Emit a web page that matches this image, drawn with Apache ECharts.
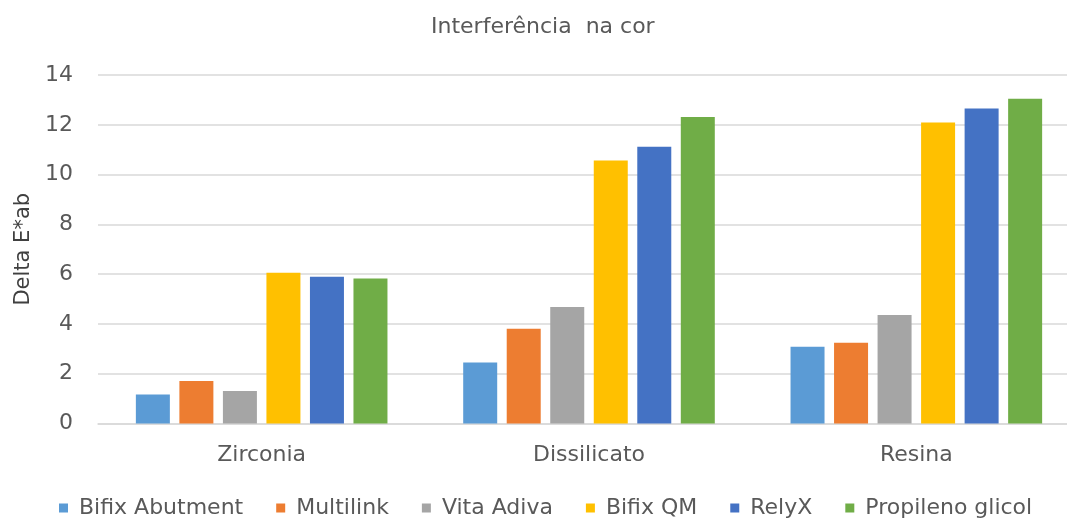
<!DOCTYPE html>
<html>
<head>
<meta charset="utf-8">
<script src="https://cdn.jsdelivr.net/npm/echarts@6/dist/echarts.min.js"></script>
<style>html,body{margin:0;padding:0;background:#fff}#c{width:1067px;height:524px}</style>
</head>
<body>
<div id="c"></div>
<script>
const categories = ["Zirconia", "Dissilicato", "Resina"];
const seriesNames = ["Bifix Abutment", "Multilink", "Vita Adiva", "Bifix QM", "RelyX", "Propileno glicol"];
const bifixAbutment = [1.16, 2.45, 3.08];
const multilink = [1.71, 3.81, 3.24];
const vitaAdiva = [1.31, 4.68, 4.36];
const bifixQM = [6.06, 10.57, 12.09];
const relyX = [5.90, 11.12, 12.65];
const propilenoGlicol = [5.82, 12.31, 13.05];
const colors = ["#5B9BD5", "#ED7D31", "#A5A5A5", "#FFC000", "#4472C4", "#70AD47"];
const yTicks = [0, 2, 4, 6, 8, 10, 12, 14];

const allValues = [bifixAbutment, multilink, vitaAdiva, bifixQM, relyX, propilenoGlicol];
const font = "'DejaVu Sans', sans-serif";
const chart = echarts.init(document.getElementById('c'), null, {renderer: 'canvas'});
chart.setOption({
  animation: false,
  backgroundColor: '#ffffff',
  title: {
    text: 'Interferência  na cor',
    left: 426,
    top: 11,
    textStyle: {fontFamily: font, fontSize: 22, fontWeight: 'normal', color: '#595959'}
  },
  legend: {
    data: seriesNames,
    bottom: 0,
    left: 54,
    itemWidth: 9,
    itemHeight: 9,
    itemGap: 33,
    icon: 'rect',
    textStyle: {fontFamily: font, fontSize: 22, color: '#595959', padding: [0, 0, 0, 6]}
  },
  grid: {left: 98, top: 75, right: -13, height: 348.5, outerBoundsMode: 'none', containLabel: false},
  xAxis: {
    type: 'category',
    data: categories,
    axisLine: {lineStyle: {color: '#D9D9D9', width: 1.5}},
    axisTick: {show: false},
    axisLabel: {fontFamily: font, fontSize: 22, color: '#595959', margin: 21}
  },
  yAxis: {
    type: 'value',
    min: yTicks[0],
    max: yTicks[yTicks.length - 1],
    interval: 2,
    name: 'Delta E*ab',
    nameLocation: 'middle',
    nameGap: 57,
    nameTextStyle: {fontFamily: font, fontSize: 21, color: '#404040'},
    axisLine: {show: false},
    axisTick: {show: false},
    axisLabel: {fontFamily: font, fontSize: 22, color: '#595959', margin: 25},
    splitLine: {lineStyle: {color: '#D9D9D9', width: 1.5}}
  },
  series: seriesNames.map((name, i) => ({
    name: name,
    type: 'bar',
    data: allValues[i],
    barWidth: 34,
    barGap: '28%',
    itemStyle: {color: colors[i]}
  }))
});
</script>
</body>
</html>
